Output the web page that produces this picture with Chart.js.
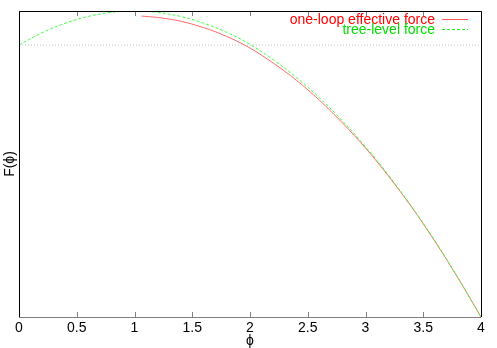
<!DOCTYPE html>
<html>
<head>
<meta charset="utf-8">
<script src="https://cdn.jsdelivr.net/npm/chart.js@4/dist/chart.umd.min.js"></script>
<style>
  body { margin: 0; background: #fff; }
  canvas { display: block; }
</style>
</head>
<body>
<canvas id="forceChart" width="497" height="348"></canvas>
<script>
// Nilai (phi vs F)
const treePhi = [0, 0.2, 0.4, 0.6, 0.8, 1.0, 1.2, 1.4, 1.6, 1.8, 2.0, 2.2, 2.4, 2.6, 2.8, 3.0, 3.2, 3.4, 3.6, 3.8, 4.0];
const treeForce = [0, 0.36, 0.64, 0.84, 0.96, 1.0, 0.96, 0.84, 0.64, 0.37, 0.02, -0.43, -0.95, -1.55, -2.23, -2.99, -3.83, -4.75, -5.75, -6.84, -8.0];

const loopPhi = [1.06, 1.2, 1.4, 1.6, 1.8, 2.0, 2.2, 2.4, 2.6, 2.8, 3.0, 3.2, 3.4, 3.6, 3.8, 4.0];
const loopForce = [0.85, 0.81, 0.70, 0.51, 0.25, -0.09, -0.53, -1.03, -1.62, -2.29, -3.03, -3.86, -4.77, -5.77, -6.85, -8.0];

const zeroPhi = [0, 4];
const zeroForce = [0, 0];

const xTicks = [0, 0.5, 1, 1.5, 2, 2.5, 3, 3.5, 4];

function toPoints(xs, ys) {
  return xs.map((x, i) => ({ x: x, y: ys[i] }));
}

Chart.defaults.font.family = '"Liberation Sans", Arial, sans-serif';
Chart.defaults.font.size = 14;
Chart.defaults.color = '#000';

// garis tick ke dalam, bingkai dan legenda ala gnuplot
const framePlugin = {
  id: 'frame',
  afterDatasetsDraw(chart) {
    const { ctx, chartArea: a, scales } = chart;
    ctx.save();
    ctx.lineWidth = 1;
    // tick marks (bawah & atas)
    ctx.strokeStyle = '#808080';
    xTicks.forEach(v => {
      const px = Math.round(scales.x.getPixelForValue(v)) + 0.5;
      ctx.beginPath();
      ctx.moveTo(px, a.bottom);
      ctx.lineTo(px, a.bottom - 5);
      ctx.moveTo(px, a.top);
      ctx.lineTo(px, a.top + 5);
      ctx.stroke();
    });
    // bingkai
    ctx.strokeStyle = '#000';
    ctx.beginPath();
    ctx.moveTo(a.left + 0.5, a.bottom);
    ctx.lineTo(a.left + 0.5, a.top + 0.5);
    ctx.lineTo(a.right + 0.5, a.top + 0.5);
    ctx.lineTo(a.right + 0.5, a.bottom);
    ctx.stroke();
    ctx.strokeStyle = '#808080';
    ctx.beginPath();
    ctx.moveTo(a.left, a.bottom + 0.5);
    ctx.lineTo(a.right, a.bottom + 0.5);
    ctx.stroke();

    // legenda
    const items = [
      { text: 'one-loop effective force', color: '#ff0000', line: '#ff5a5a', dash: [] },
      { text: 'tree-level force', color: '#00e000', line: '#20f020', dash: [3, 2] }
    ];
    ctx.font = '14px "Liberation Sans", Arial, sans-serif';
    ctx.textAlign = 'right';
    ctx.textBaseline = 'middle';
    items.forEach((it, i) => {
      const y = Math.round(a.top + 8 + i * 10);
      ctx.fillStyle = it.color;
      ctx.fillText(it.text, a.right - 46, y + 1);
      ctx.strokeStyle = it.line;
      ctx.setLineDash(it.dash);
      ctx.beginPath();
      ctx.moveTo(a.right - 39, y + 0.5);
      ctx.lineTo(a.right - 13, y + 0.5);
      ctx.stroke();
      ctx.setLineDash([]);
    });
    ctx.restore();
  }
};

new Chart(document.getElementById('forceChart'), {
  type: 'line',
  data: {
    datasets: [
      {
        label: 'zero',
        data: toPoints(zeroPhi, zeroForce),
        borderColor: '#c0c0c0',
        borderWidth: 1,
        borderDash: [1, 2],
        pointRadius: 0,
        tension: 0
      },
      {
        label: 'tree-level force',
        data: toPoints(treePhi, treeForce),
        borderColor: '#40ff40',
        borderWidth: 1,
        borderDash: [3, 2],
        pointRadius: 0,
        tension: 0.35
      },
      {
        label: 'one-loop effective force',
        data: toPoints(loopPhi, loopForce),
        borderColor: '#ff6a6a',
        borderWidth: 1,
        pointRadius: 0,
        tension: 0.35
      }
    ]
  },
  options: {
    responsive: false,
    animation: false,
    layout: { padding: { top: 11, right: 16, left: 0, bottom: 0 } },
    scales: {
      x: {
        type: 'linear',
        min: 0,
        max: 4,
        grid: { display: false, drawTicks: false },
        border: { display: false },
        ticks: {
          stepSize: 0.5,
          padding: 3,
          maxRotation: 0,
          callback: v => String(v)
        },
        title: {
          display: true,
          text: 'ϕ',
          font: { size: 14, lineHeight: 1 },
          padding: { top: 0, bottom: 0 }
        },
        afterFit: s => { s.height = 31; }
      },
      y: {
        type: 'linear',
        min: -8,
        max: 1,
        grid: { display: false, drawTicks: false },
        border: { display: false },
        ticks: { display: false },
        title: {
          display: true,
          text: 'F(ϕ)',
          font: { size: 14, lineHeight: 1 },
          padding: { top: 3, bottom: 0 }
        },
        afterFit: s => { s.width = 19; }
      }
    },
    plugins: {
      legend: { display: false },
      tooltip: { enabled: false }
    }
  },
  plugins: [framePlugin]
});
</script>
</body>
</html>
